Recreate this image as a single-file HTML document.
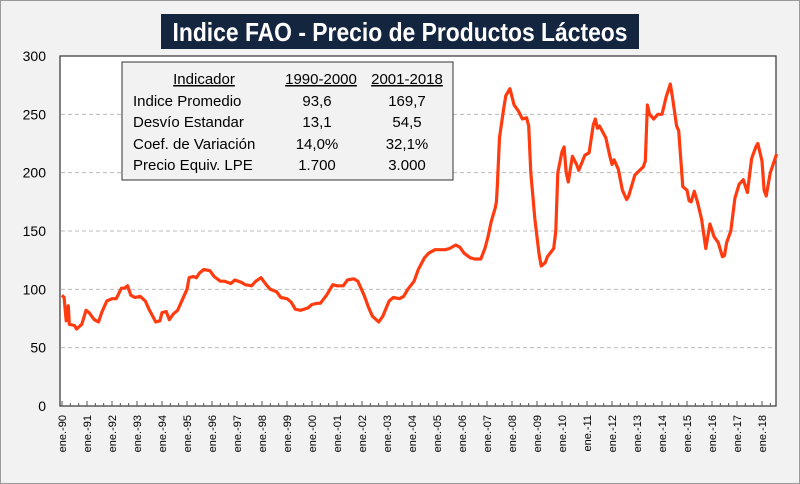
<!DOCTYPE html>
<html><head><meta charset="utf-8"><style>
body{margin:0;width:800px;height:484px;overflow:hidden;background:#fff}
svg{display:block;font-family:"Liberation Sans",sans-serif}
</style></head><body>
<svg id="chart" width="800" height="484" viewBox="0 0 800 484">
<rect x="0.5" y="0.5" width="799" height="483" fill="#f2f2f2" stroke="#9a9a9a"/>
<rect x="161" y="14" width="478" height="35" fill="#14253f"/>
<text x="400" y="41" text-anchor="middle" fill="#fff" font-size="26" font-weight="bold" textLength="455" lengthAdjust="spacingAndGlyphs">Indice FAO - Precio de Productos Lácteos</text>
<rect x="60" y="56" width="716" height="350" fill="#fff" stroke="#333" stroke-width="1.2"/>
<g id="grid"></g><g id="yaxis"></g><g id="xaxis"></g>
<path id="line" fill="none" stroke="#ff3b0f" stroke-width="3.2" stroke-linejoin="round"/>
<g>
<rect x="122" y="62" width="331" height="118" fill="#f2f2f2" stroke="#333" stroke-width="1"/>
<g font-size="15" fill="#000">
<text x="204" y="84" text-anchor="middle" text-decoration="underline">Indicador</text>
<text x="321" y="84" text-anchor="middle" text-decoration="underline">1990-2000</text>
<text x="407" y="84" text-anchor="middle" text-decoration="underline">2001-2018</text>
<text x="133" y="106">Indice Promedio</text><text x="317" y="106" text-anchor="middle">93,6</text><text x="407" y="106" text-anchor="middle">169,7</text>
<text x="133" y="127">Desvío Estandar</text><text x="317" y="127" text-anchor="middle">13,1</text><text x="407" y="127" text-anchor="middle">54,5</text>
<text x="133" y="149">Coef. de Variación</text><text x="317" y="149" text-anchor="middle">14,0%</text><text x="407" y="149" text-anchor="middle">32,1%</text>
<text x="133" y="170">Precio Equiv. LPE</text><text x="317" y="170" text-anchor="middle">1.700</text><text x="407" y="170" text-anchor="middle">3.000</text>
</g></g>
</svg>
<script>
const months=[0,1,2,3,3.5,6,7,9.5,11.5,13,15.5,17.5,19,21.5,24,26,28.5,30,31.5,33,35,37.5,40,42,45,47,48,50,51.5,53.5,55.5,58,60,61,63,64.5,66,68,71,73,76,78,81,83,86,88,91,93,95.5,98,100,103,105,108,110,112,114.5,118,120,122.5,124,127,130,132,135,137,140,142,145,147,149,152,154,157,159,162,164,166,169,171,174,176,179,181,184,186,189,191,193,196,198,201,203,204.5,206,208,208.5,209,210,212,213,215,217,219,221,223,224,225,227,229,230,232,233,236,237,238,240,241,242,243,245,247,248,251,253,255,256,257,258,261,263,264,265,267,269,271,272,275,279,280,281,282,284,286,288,290,292,293,295,296,298,300,301,302,303.5,305,307,309,311,313,315,317,318,319,321,323,325,327,329,331,333,334,336,337,338,340,343];
const values=[95,93,73,86,70,69,66,70,82,80,74,72,80,90,92,92,101,101,103,95,93,94,90,82,72,73,80,81,74,79,82,92,100,110,111,110,114,117,116,111,107,107,105,108,106,104,103,107,110,104,100,98,93,92,89,83,82,84,87,88,88,95,104,103,103,108,109,107,95,85,77,72,77,90,93,92,94,100,107,117,127,131,134,134,134,135,138,136,131,127,126,126,135,145,158,170,175,190,230,255,266,272,258,253,246,247,240,200,160,130,120,123,128,135,150,200,218,222,200,192,214,207,202,215,217,241,246,238,240,230,214,207,211,203,185,177,180,198,205,210,258,250,246,250,250,265,276,265,240,236,188,185,176,175,184,175,160,135,156,145,140,128,129,140,150,178,190,194,183,212,222,225,210,185,180,200,216];
const yTicks=[0,50,100,150,200,250,300];
const xLabels=["ene.-90","ene.-91","ene.-92","ene.-93","ene.-94","ene.-95","ene.-96","ene.-97","ene.-98","ene.-99","ene.-00","ene.-01","ene.-02","ene.-03","ene.-04","ene.-05","ene.-06","ene.-07","ene.-08","ene.-09","ene.-10","ene.-11","ene.-12","ene.-13","ene.-14","ene.-15","ene.-16","ene.-17","ene.-18"];
const NS="http://www.w3.org/2000/svg";
const X=m=>62+m*25/12, Y=v=>406-v*350/300;
const grid=document.getElementById('grid'),ya=document.getElementById('yaxis'),xa=document.getElementById('xaxis');
yTicks.forEach(t=>{
 if(t>0&&t<300){const l=document.createElementNS(NS,'line');
 l.setAttribute('x1',61);l.setAttribute('x2',775);l.setAttribute('y1',Y(t));l.setAttribute('y2',Y(t));
 l.setAttribute('stroke','#bbb');l.setAttribute('stroke-dasharray','4,3');
 
 
 grid.appendChild(l);}
 const tx=document.createElementNS(NS,'text');
 tx.setAttribute('x',46);tx.setAttribute('y',Y(t)+5);tx.setAttribute('text-anchor','end');tx.setAttribute('font-size','14');
 tx.textContent=t;
 
 
 ya.appendChild(tx);
});
for(let m=0;m<=340;m+=4){const l=document.createElementNS(NS,'line');
 l.setAttribute('x1',X(m));l.setAttribute('x2',X(m));l.setAttribute('y1',406);l.setAttribute('y2',m%12?403:401);
 l.setAttribute('stroke','#555');
 
 
 xa.appendChild(l);}
xLabels.forEach((s,i)=>{const tx=document.createElementNS(NS,'text');
 const x=X(i*12)+4;
 tx.setAttribute('transform','translate('+x+',415) rotate(-90)');
 tx.setAttribute('text-anchor','end');tx.setAttribute('font-size','11');
 tx.textContent=s;
 
 
 xa.appendChild(tx);});
document.getElementById('line').setAttribute('d',months.map((m,i)=>(i?'L':'M')+X(m).toFixed(1)+','+Y(values[i]).toFixed(1)).join(''));
</script>
</body></html>
